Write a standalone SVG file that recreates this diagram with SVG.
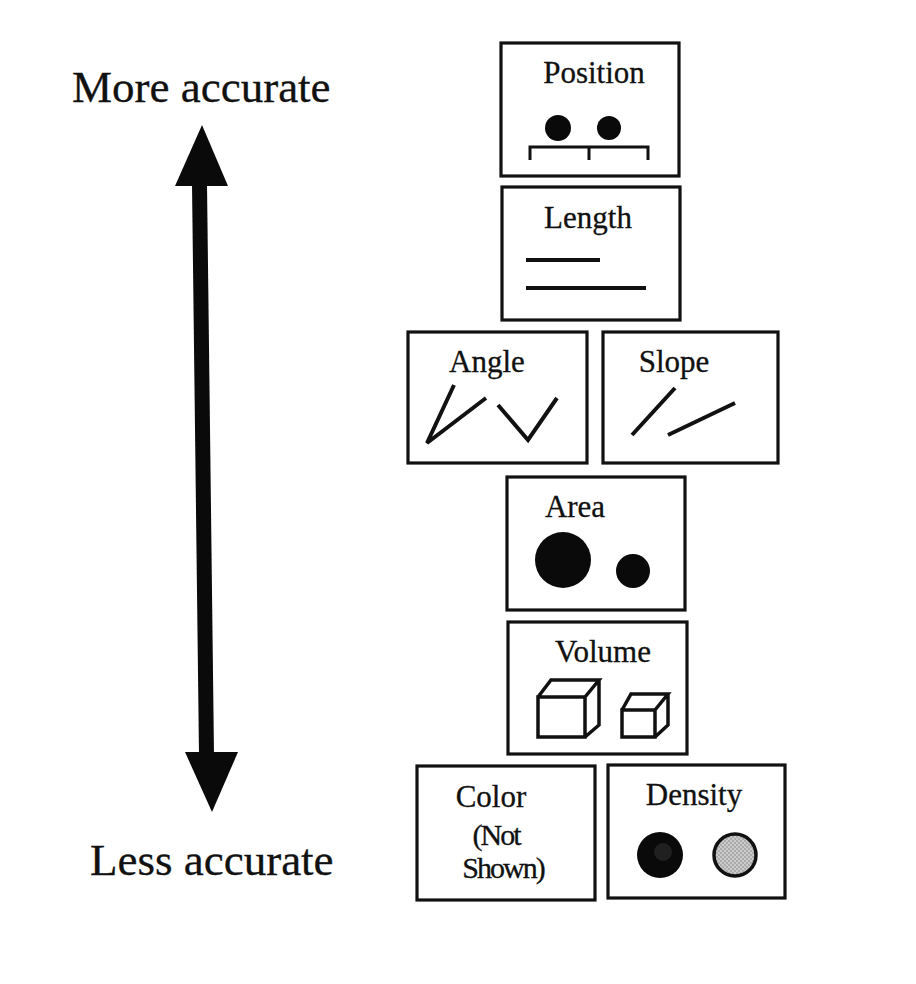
<svg xmlns="http://www.w3.org/2000/svg" width="916" height="984" viewBox="0 0 916 984">
<style>
  .box { fill: #fff; stroke: #111; stroke-width: 3.2; }
  .lbl { font-family: "Liberation Serif", "Times New Roman", serif; font-size: 31px; fill: #111; text-anchor: middle; stroke: #111; stroke-width: 0.3; }
  .big { font-family: "Liberation Serif", "Times New Roman", serif; font-size: 45px; fill: #111; stroke: #111; stroke-width: 0.3; }
  .ln { fill: none; stroke: #111; stroke-width: 4; stroke-linecap: butt; stroke-linejoin: miter; }
  .thin { fill: none; stroke: #111; stroke-width: 3.5; stroke-linejoin: miter; }
  .dot { fill: #0a0a0a; }
</style>
<defs>
  <pattern id="check" width="4" height="4" patternUnits="userSpaceOnUse">
    <rect width="4" height="4" fill="#cacaca"/>
    <rect width="2" height="2" fill="#ababab"/>
    <rect x="2" y="2" width="2" height="2" fill="#ababab"/>
  </pattern>
</defs>
<rect width="916" height="984" fill="#fff"/>

<g id="scale">
  <text class="big" x="72" y="102">More accurate</text>
  <text class="big" x="90" y="875">Less accurate</text>
  <path d="M192,184 L199,755 L214,755 L207,184 Z" fill="#0a0a0a"/>
  <polygon points="202,125 228,186 175,186" fill="#0a0a0a"/>
  <polygon points="185,752 238,752 212,812" fill="#0a0a0a"/>
</g>

<g id="position">
  <rect class="box" x="501" y="43" width="178" height="133"/>
  <text class="lbl" x="594" y="83">Position</text>
  <circle class="dot" cx="558" cy="128" r="13"/>
  <circle class="dot" cx="609" cy="128" r="12"/>
  <path class="thin" style="stroke-width:3" d="M530,160 L530,147 L648,147 L648,160 M589,147 L589,160"/>
</g>

<g id="length">
  <rect class="box" x="502" y="187" width="178" height="133"/>
  <text class="lbl" x="588" y="228">Length</text>
  <line class="ln" x1="526" y1="260" x2="600" y2="260"/>
  <line class="ln" x1="526" y1="288" x2="646" y2="288"/>
</g>

<g id="angle">
  <rect class="box" x="408" y="332" width="179" height="131"/>
  <text class="lbl" x="487" y="372">Angle</text>
  <path class="ln" d="M454,385 L427,443 L486,398"/>
  <path class="ln" d="M498,405 L528,440 L557,398"/>
</g>

<g id="slope">
  <rect class="box" x="603" y="332" width="175" height="131"/>
  <text class="lbl" x="674" y="372">Slope</text>
  <line class="ln" x1="632" y1="435" x2="675" y2="388"/>
  <line class="ln" x1="668" y1="435" x2="735" y2="403"/>
</g>

<g id="area">
  <rect class="box" x="507" y="477" width="178" height="133"/>
  <text class="lbl" x="575" y="517">Area</text>
  <circle class="dot" cx="563" cy="560" r="28"/>
  <circle class="dot" cx="633" cy="571" r="17"/>
</g>

<g id="volume">
  <rect class="box" x="508" y="622" width="179" height="132"/>
  <text class="lbl" x="603" y="662">Volume</text>
  <path class="thin" d="M538,697 L585,697 L585,737 L538,737 Z M538,697 L551,680 L599,680 L585,697 M599,680 L599,725 L585,737"/>
  <path class="thin" d="M622,710 L655,710 L655,737 L622,737 Z M622,710 L631,694 L668,694 L655,710 M668,694 L668,725 L655,737"/>
</g>

<g id="color">
  <rect class="box" x="417" y="766" width="178" height="134"/>
  <text class="lbl" x="491" y="807">Color</text>
  <text class="lbl" x="496" y="845" style="font-size:30px;letter-spacing:-2px">(Not</text>
  <text class="lbl" x="503" y="878" style="font-size:30px;letter-spacing:-2px">Shown)</text>
</g>

<g id="density">
  <rect class="box" x="608" y="765" width="177" height="133"/>
  <text class="lbl" x="694" y="805">Density</text>
  <circle cx="660" cy="855" r="23" fill="#0a0a0a"/>
  <circle cx="663" cy="852" r="9" fill="#2e2e2e" opacity="0.6"/>
  <circle cx="735" cy="855" r="21" fill="url(#check)" stroke="#111" stroke-width="3.5"/>
</g>

<g id="connectors"></g>
</svg>
